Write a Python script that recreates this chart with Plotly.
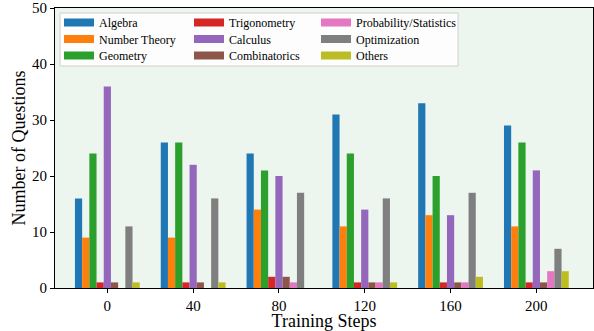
import plotly.graph_objects as go

steps = ["0", "40", "80", "120", "160", "200"]
categories = ["Algebra", "Number Theory", "Geometry", "Trigonometry", "Calculus",
              "Combinatorics", "Probability/Statistics", "Optimization", "Others"]
algebra = [16, 26, 24, 31, 33, 29]
number_theory = [9, 9, 14, 11, 13, 11]
geometry = [24, 26, 21, 24, 20, 26]
trigonometry = [1, 1, 2, 1, 1, 1]
calculus = [36, 22, 20, 14, 13, 21]
combinatorics = [1, 1, 2, 1, 1, 1]
probability = [0, 0, 1, 1, 1, 3]
optimization = [11, 16, 17, 16, 17, 7]
others = [1, 1, 0, 1, 2, 3]
series = [algebra, number_theory, geometry, trigonometry, calculus,
          combinatorics, probability, optimization, others]
colors = ["#1f77b4", "#ff7f0e", "#2ca02c", "#d62728", "#9467bd",
          "#8c564b", "#e377c2", "#7f7f7f", "#bcbd22"]

FONT = "Liberation Serif"
fig = go.Figure()
for name, vals, c in zip(categories, series, colors):
    fig.add_trace(go.Bar(x=steps, y=vals, name=name, marker=dict(color=c, line=dict(width=0)),
                         showlegend=False))

W, H = 594, 331
ml, mr, mt, mb = 55, 1, 8, 43
pw, ph = W - ml - mr, H - mt - mb

def px_x(p):
    return (p - ml) / pw

def px_y(p):
    return (H - mb - p) / ph

leg_common = dict(font=dict(family=FONT, size=12, color="#000"), bgcolor="rgba(0,0,0,0)",
                  borderwidth=0, yanchor="top", xanchor="left", orientation="v",
                  itemwidth=30, tracegroupgap=0)
col_x = [59, 189, 316]
row_y = [8, 24.5, 41]
layout_leg = {}
for i, (name, c) in enumerate(zip(categories, colors)):
    lname = "legend" if i == 0 else f"legend{i + 1}"
    fig.add_trace(go.Scatter(x=[None], y=[None], mode="lines", name=name,
                             line=dict(color=c, width=8), legend=lname, showlegend=True))
    layout_leg[lname] = dict(x=px_x(col_x[i // 3]), y=px_y(row_y[i % 3]), **leg_common)

fig.update_layout(
    width=W, height=H,
    margin=dict(l=ml, r=mr, t=mt, b=mb, pad=0, autoexpand=False),
    paper_bgcolor="white", plot_bgcolor="#edf5ef",
    barmode="group", bargap=0.245, bargroupgap=0,
    font=dict(family=FONT, color="#000"),
    xaxis=dict(type="category", range=[-0.61, 5.66], showline=True, linecolor="#000",
               linewidth=1.2, mirror=True, ticks="outside", ticklen=4, tickcolor="#000",
               tickfont=dict(size=15, family=FONT), showgrid=False, automargin=False,
               title=dict(text="Training Steps", font=dict(size=18, family=FONT), standoff=0)),
    yaxis=dict(range=[0, 50], dtick=10, showline=True, linecolor="#000", linewidth=1.2,
               mirror=True, ticks="outside", ticklen=4, tickcolor="#000",
               tickfont=dict(size=15, family=FONT), showgrid=False, zeroline=False,
               automargin=False,
               title=dict(text="Number of Questions", font=dict(size=18, family=FONT), standoff=1)),
    shapes=[dict(type="rect", xref="paper", yref="paper",
                 x0=px_x(60), x1=px_x(458), y0=px_y(66), y1=px_y(13),
                 line=dict(color="#d0d0d0", width=1), fillcolor="rgba(255,255,255,0.8)",
                 layer="above")],
    **layout_leg,
)

fig.write_html("out.html", config={"displayModeBar": False},
               post_script="document.body.style.margin='0';document.body.style.overflow='hidden';")
